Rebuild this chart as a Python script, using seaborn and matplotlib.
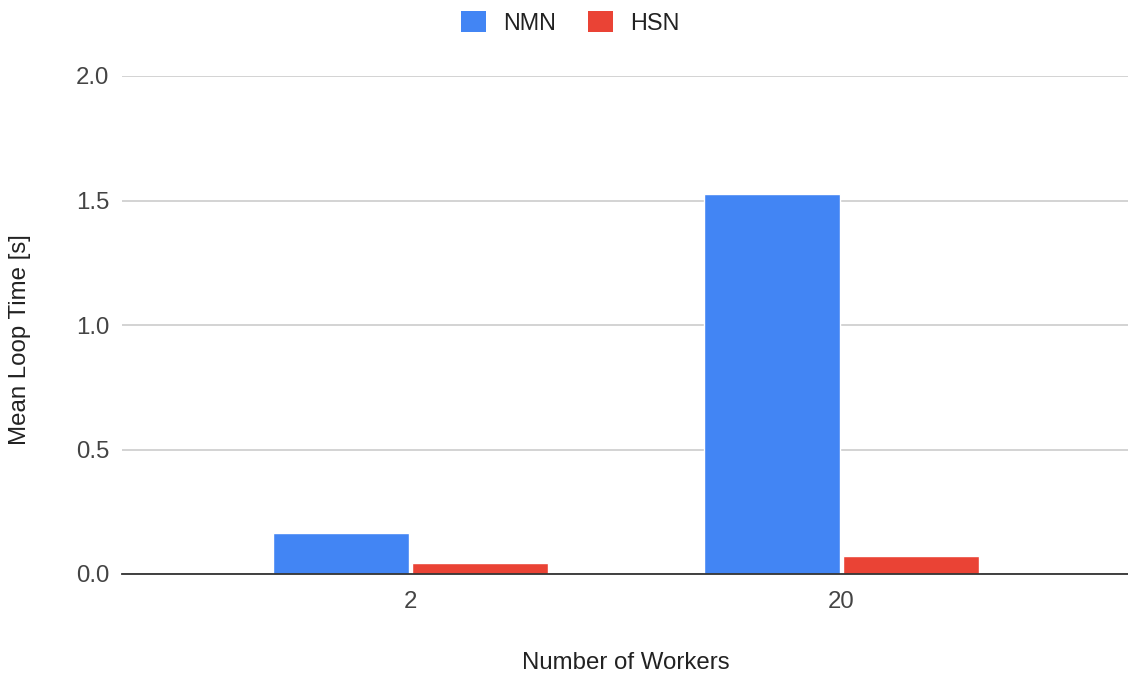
import matplotlib
matplotlib.use("Agg")
import matplotlib.pyplot as plt
import seaborn as sns
import pandas as pd
from matplotlib.patches import Patch

# Mean loop time per configuration
workers = ["2", "20"]
series = ["NMN", "HSN"]
nmn_times = [0.165, 1.525]
hsn_times = [0.044, 0.074]
y_ticks = [0.0, 0.5, 1.0, 1.5, 2.0]

colors = {"NMN": "#4285F4", "HSN": "#EA4335"}

df = pd.DataFrame({
    "workers": workers * 2,
    "series": ["NMN"] * len(workers) + ["HSN"] * len(workers),
    "time": nmn_times + hsn_times,
})

sns.set_theme(style="white")
plt.rcParams["font.family"] = ["Liberation Sans", "DejaVu Sans"]

W, H = 1128, 674
fig = plt.figure(figsize=(W / 100, H / 100), dpi=100)
ax = fig.add_axes([122 / W, 100 / H, 1 - 122 / W, (574 - 76) / H])

sns.barplot(data=df, x="workers", y="time", hue="series", order=workers,
            hue_order=series, palette=colors, width=0.645, gap=0.02,
            saturation=1, ax=ax, legend=False)

ax.set_xlim(-0.67, 1.665)
ax.set_ylim(0, 2.0)
ax.set_yticks(y_ticks)
ax.set_yticklabels([f"{v:.1f}" for v in y_ticks])
ax.yaxis.grid(True, color="#cccccc", linewidth=1.2)
ax.set_axisbelow(True)
for side in ["top", "right", "left"]:
    ax.spines[side].set_visible(False)
ax.spines["bottom"].set_color("#333333")
ax.spines["bottom"].set_linewidth(1.3)
ax.tick_params(axis="both", length=0, labelsize=17.3, colors="#444444")
ax.tick_params(axis="y", pad=9)
ax.tick_params(axis="x", pad=12)

ax.set_xlabel("")
ax.set_ylabel("")
fig.text(626 / W, 1 - 663 / H, "Number of Workers", fontsize=17.3,
         color="#222222", ha="center", va="center")
fig.text(20 / W, 1 - 340 / H, "Mean Loop Time [s]", fontsize=17.3,
         color="#222222", ha="center", va="center", rotation=90)

handles = [Patch(facecolor=colors[s], edgecolor="none", label=s) for s in series]
fig.legend(handles=handles, loc="center", bbox_to_anchor=(570 / W, 1 - 23 / H),
           ncol=2, frameon=False, fontsize=16.8, handlelength=1.07, handleheight=1.0,
           handletextpad=0.73, columnspacing=1.37, labelcolor="#222222")

fig.savefig("out.png", dpi=100)
